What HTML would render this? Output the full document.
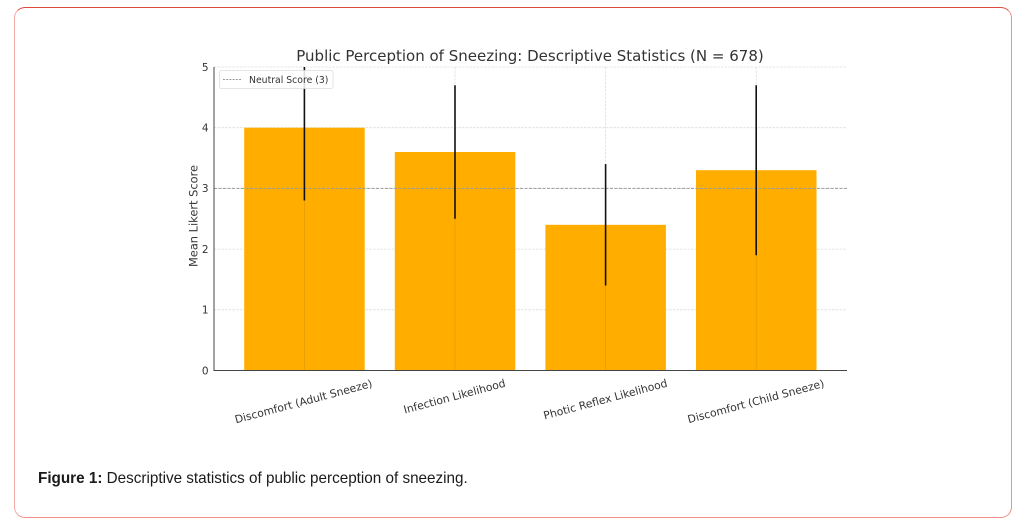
<!DOCTYPE html>
<html>
<head>
<meta charset="utf-8">
<style>
  html, body { margin: 0; padding: 0; background: #ffffff; }
  body { width: 1032px; height: 523px; position: relative; overflow: hidden; }
  .card {
    position: absolute; left: 14px; top: 7px; width: 998px; height: 511px;
    border: 1px solid #ef8f88; border-top-color: #dd4a3a; border-left-color: #f3aaa4;
    border-radius: 11px; box-sizing: border-box; background: #fff;
  }
  svg { position: absolute; left: 0; top: 0; }
  .cap {
    position: absolute; left: 38px; top: 470px; font-family: "Liberation Sans", Arial, sans-serif;
    font-size: 15.25px; color: #1a1a1a; white-space: nowrap; line-height: 18px;
  }
  .cap b { font-weight: bold; }
</style>
</head>
<body>
<div class="card"></div>
<svg width="1032" height="523" viewBox="0 0 1032 523" xmlns="http://www.w3.org/2000/svg" font-family="'DejaVu Sans', 'Liberation Sans', sans-serif">
  <!-- horizontal grid -->
  <g stroke="#dcdcdc" stroke-width="0.8" stroke-dasharray="2.5,1.2">
    <line x1="214" y1="67" x2="847" y2="67"/>
    <line x1="214" y1="127.7" x2="847" y2="127.7"/>
    <line x1="214" y1="188.4" x2="847" y2="188.4"/>
    <line x1="214" y1="249.1" x2="847" y2="249.1"/>
    <line x1="214" y1="309.8" x2="847" y2="309.8"/>
  </g>
  <!-- vertical grid under -->
  <g stroke="#dcdcdc" stroke-width="0.8" stroke-dasharray="2.5,1.2">
    <line x1="304.4" y1="67" x2="304.4" y2="370.5"/>
    <line x1="455" y1="67" x2="455" y2="370.5"/>
    <line x1="605.6" y1="67" x2="605.6" y2="370.5"/>
    <line x1="756.2" y1="67" x2="756.2" y2="370.5"/>
  </g>
  <!-- bars -->
  <g fill="#ffae00">
    <rect x="244.2" y="127.7" width="120.5" height="242.8"/>
    <rect x="394.8" y="152" width="120.5" height="218.5"/>
    <rect x="545.4" y="224.8" width="120.5" height="145.7"/>
    <rect x="696" y="170.2" width="120.5" height="200.3"/>
  </g>
  <!-- faint vertical grid over bars -->
  <g stroke="rgba(0,0,0,0.10)" stroke-width="0.8">
    <line x1="304.4" y1="127.7" x2="304.4" y2="370.5"/>
    <line x1="455" y1="152" x2="455" y2="370.5"/>
    <line x1="605.6" y1="224.8" x2="605.6" y2="370.5"/>
    <line x1="756.2" y1="170.2" x2="756.2" y2="370.5"/>
  </g>
  <!-- neutral line -->
  <line x1="214" y1="188.4" x2="847" y2="188.4" stroke="#9a9a9a" stroke-width="1" stroke-dasharray="3,1.5"/>
  <!-- error bars -->
  <g stroke="#111" stroke-width="1.6">
    <line x1="304.4" y1="67" x2="304.4" y2="200.5"/>
    <line x1="455" y1="85.2" x2="455" y2="218.8"/>
    <line x1="605.6" y1="164.1" x2="605.6" y2="285.5"/>
    <line x1="756.2" y1="85.2" x2="756.2" y2="255.2"/>
  </g>
  <!-- spines -->
  <line x1="214" y1="67" x2="214" y2="371" stroke="#444" stroke-width="1"/>
  <line x1="213.5" y1="370.5" x2="847" y2="370.5" stroke="#444" stroke-width="1"/>
  <!-- y tick labels -->
  <g font-size="10.5" fill="#333" text-anchor="end">
    <text x="208.5" y="374.3">0</text>
    <text x="208.5" y="313.6">1</text>
    <text x="208.5" y="252.9">2</text>
    <text x="208.5" y="192.2">3</text>
    <text x="208.5" y="131.5">4</text>
    <text x="208.5" y="70.8">5</text>
  </g>
  <!-- y label -->
  <text transform="translate(197.5,216) rotate(-90)" text-anchor="middle" font-size="11.4" fill="#3a3a3a">Mean Likert Score</text>
  <!-- title -->
  <text x="530" y="61" text-anchor="middle" font-size="15" fill="#333">Public Perception of Sneezing: Descriptive Statistics (N = 678)</text>
  <!-- legend -->
  <rect x="219.5" y="70.5" width="113.5" height="18" rx="2" fill="#fff" fill-opacity="0.85" stroke="#dcdcdc" stroke-width="0.8"/>
  <line x1="223" y1="79.5" x2="241" y2="79.5" stroke="#9a9a9a" stroke-width="1" stroke-dasharray="2,1.2"/>
  <text x="249" y="82.8" font-size="9.3" fill="#333">Neutral Score (3)</text>
  <!-- x labels -->
  <g font-size="10.8" fill="#333" text-anchor="middle">
    <text transform="translate(303.5,401.5) rotate(-15)" y="3.7">Discomfort (Adult Sneeze)</text>
    <text transform="translate(454.5,396.4) rotate(-15)" y="3.7">Infection Likelihood</text>
    <text transform="translate(605.4,399.3) rotate(-15)" y="3.7">Photic Reflex Likelihood</text>
    <text transform="translate(755.9,401.4) rotate(-15)" y="3.7">Discomfort (Child Sneeze)</text>
  </g>
</svg>
<div class="cap"><b>Figure 1:</b> Descriptive statistics of public perception of sneezing.</div>
</body>
</html>
